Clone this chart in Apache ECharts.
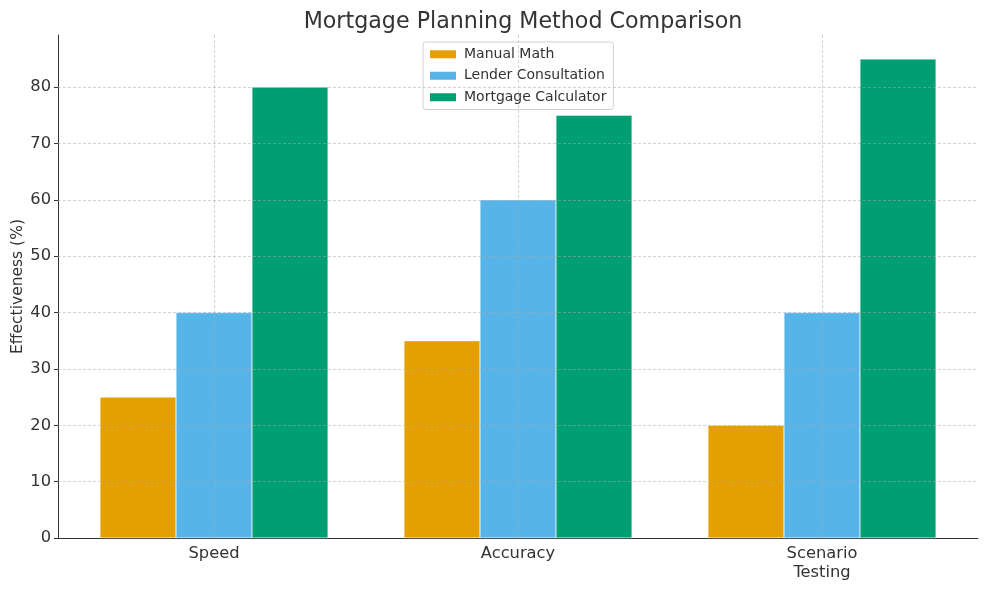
<!DOCTYPE html>
<html>
<head>
<meta charset="utf-8">
<script src="https://cdn.jsdelivr.net/npm/echarts@6/dist/echarts.min.js"></script>
<style>html,body{margin:0;padding:0;background:#fff}#c{width:988px;height:589px}</style>
</head>
<body>
<div id="c"></div>
<script>
const categories = ['Speed', 'Accuracy', 'Scenario\nTesting'];
const seriesNames = ['Manual Math', 'Lender Consultation', 'Mortgage Calculator'];
const manualMath = [25, 35, 20];
const lenderConsultation = [40, 60, 40];
const mortgageCalculator = [80, 75, 85];
const yTicks = [0, 10, 20, 30, 40, 50, 60, 70, 80];
const colors = ['#E69F00', '#56B4E9', '#009E73'];

const FONT = 'DejaVu Sans';
const Y_MAX = 89.25;
const gridLine = { color: 'rgba(170,170,170,0.65)', width: 0.8, type: [3, 2] };

const values = [manualMath, lenderConsultation, mortgageCalculator];
const barSeries = values.map((v, i) => ({
  name: seriesNames[i],
  type: 'bar',
  xAxisIndex: 0, yAxisIndex: 0,
  data: v,
  barWidth: 76,
  barGap: '0%',
  itemStyle: { color: colors[i], borderColor: '#fff', borderWidth: 0.4 },
  emphasis: { disabled: true },
  z: 2
}));

const markBase = {
  silent: true, symbol: 'none', animation: false,
  label: { show: false }, emphasis: { disabled: true }, lineStyle: gridLine
};

const vGridSeries = {
  name: 'vgrid', type: 'line', data: [], z: 10, silent: true,
  xAxisIndex: 0, yAxisIndex: 0,
  markLine: Object.assign({}, markBase, { data: categories.map(c => ({ xAxis: c })) })
};
const hGridSeries = {
  name: 'hgrid', type: 'line', data: [], z: 10, silent: true,
  xAxisIndex: 1, yAxisIndex: 1,
  markLine: Object.assign({}, markBase, { data: yTicks.filter(t => t > 0).map(t => ({ yAxis: t })) })
};

const chart = echarts.init(document.getElementById('c'), null, { renderer: 'canvas' });
chart.setOption({
  animation: false,
  backgroundColor: '#fff',
  textStyle: { fontFamily: FONT },
  title: {
    text: 'Mortgage Planning Method Comparison',
    left: 518, top: 6, textAlign: 'center',
    textStyle: { fontFamily: FONT, fontSize: 22.2, fontWeight: 'normal', color: '#333' }
  },
  legend: {
    data: seriesNames,
    orient: 'vertical',
    left: 423, top: 42,
    padding: [4, 7, 4, 5],
    itemWidth: 28, itemHeight: 10, itemGap: 5,
    icon: 'rect',
    borderColor: '#d0d0d0', borderWidth: 1, borderRadius: 3,
    backgroundColor: 'rgba(255,255,255,0.8)',
    textStyle: { fontFamily: FONT, fontSize: 14, color: '#333', lineHeight: 16.5, padding: [0, 0, 0, 2] }
  },
  grid: [
    { left: 62, right: 14, top: 35, bottom: 51, containLabel: false, outerBoundsMode: 'none' },
    { left: 58, right: 10, top: 35, bottom: 51, containLabel: false, outerBoundsMode: 'none' }
  ],
  xAxis: [
    {
      type: 'category', gridIndex: 0,
      data: categories,
      axisLine: { show: false },
      axisTick: { alignWithLabel: true, length: 4, lineStyle: { color: '#333' } },
      axisLabel: { fontFamily: FONT, fontSize: 16.3, color: '#333', margin: 6, lineHeight: 19 },
      splitLine: { show: false }
    },
    {
      type: 'value', gridIndex: 1, min: 0, max: 1,
      axisLine: { show: true, lineStyle: { color: '#333', width: 1 } },
      axisTick: { show: false }, axisLabel: { show: false }, splitLine: { show: false }
    }
  ],
  yAxis: [
    {
      type: 'value', gridIndex: 0, min: 0, max: Y_MAX, show: false,
      splitLine: { show: false }
    },
    {
      type: 'value', gridIndex: 1,
      min: 0, max: Y_MAX, interval: 10,
      name: 'Effectiveness (%)',
      nameLocation: 'middle',
      nameGap: 32,
      nameMoveOverlap: false,
      nameTextStyle: { fontFamily: FONT, fontSize: 15.5, color: '#333' },
      axisLine: { show: true, lineStyle: { color: '#333', width: 1 } },
      axisTick: { show: true, length: 4, lineStyle: { color: '#333' }, customValues: yTicks },
      axisLabel: { fontFamily: FONT, fontSize: 16.3, color: '#333', margin: 7, customValues: yTicks },
      splitLine: { show: false }
    }
  ],
  series: barSeries.concat([vGridSeries, hGridSeries])
});
</script>
</body>
</html>
